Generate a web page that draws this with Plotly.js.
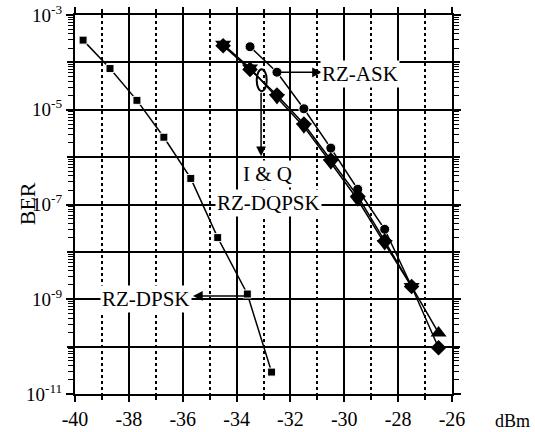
<!DOCTYPE html>
<html>
<head>
<meta charset="utf-8">
<script src="https://cdn.plot.ly/plotly-3.0.1.min.js"></script>
<style>html,body{margin:0;padding:0;background:#fff;}#chart{width:535px;height:432px;}</style>
</head>
<body>
<div id="chart"></div>
<script>
// Received power (dBm) and BER values
const dpskX = [-39.7, -38.7, -37.7, -36.7, -35.7, -34.7, -33.6, -32.7];
const dpskBER = [2.95e-4, 7.4e-5, 1.58e-5, 2.63e-6, 3.55e-7, 2.0e-8, 1.29e-9, 2.9e-11];

const askX = [-33.5, -32.5, -31.5, -30.5, -29.5, -28.5, -27.5];
const askBER = [2.14e-4, 6.2e-5, 1.05e-5, 1.55e-6, 2.1e-7, 3.0e-8, 1.86e-9];

const iX = [-34.5, -33.5, -32.5, -31.5, -30.5, -29.5, -28.5, -27.5, -26.5];
const iBER = [2.24e-4, 7.1e-5, 2.04e-5, 5.0e-6, 8.7e-7, 1.5e-7, 1.7e-8, 1.86e-9, 9.5e-11];

const qX = [-34.5, -33.5, -32.5, -31.5, -30.5, -29.5, -28.5, -27.5, -26.5];
const qBER = [2.4e-4, 7.6e-5, 1.82e-5, 4.4e-6, 7.6e-7, 1.26e-7, 1.5e-8, 1.86e-9, 1.95e-10];

const xTickVals = [-40, -38, -36, -34, -32, -30, -28, -26];
const xTickText = ["-40", "-38", "-36", "-34", "-32", "-30", "-28", "-26"];
const yTickVals = [1e-3, 1e-5, 1e-7, 1e-9, 1e-11];
const yTickText = ["10<sup>-3</sup>", "10<sup>-5</sup>", "10<sup>-7</sup>", "10<sup>-9</sup>", "10<sup>-11</sup>"];
const yEvenDecades = [1e-4, 1e-6, 1e-8, 1e-10];

const FONT = "Liberation Serif, Times New Roman, serif";
const qSymbols = qX.map((v, k) => k === qX.length - 1 ? "triangle-up" : "triangle-down");

const traces = [
  {x: [], y: [], yaxis: "y2", mode: "markers", hoverinfo: "skip", showlegend: false},
  {x: dpskX, y: dpskBER, mode: "lines+markers", name: "RZ-DPSK",
   line: {color: "black", width: 1.5},
   marker: {symbol: "square", size: 8, color: "black", line: {color: "white", width: 1}}},
  {x: askX, y: askBER, mode: "lines+markers", name: "RZ-ASK",
   line: {color: "black", width: 1.5},
   marker: {symbol: "circle", size: 10, color: "black", line: {color: "white", width: 1}}},
  {x: iX, y: iBER, mode: "lines+markers", name: "I RZ-DQPSK",
   line: {color: "black", width: 1.5},
   marker: {symbol: "diamond", size: 12, color: "black"}},
  {x: qX, y: qBER, mode: "lines+markers", name: "Q RZ-DQPSK",
   line: {color: "black", width: 1.5},
   marker: {symbol: qSymbols, size: 14, color: "black"}}
];

const yCommon = {
  type: "log", range: [-11, -3],
  ticks: "outside", ticklen: 7, tickwidth: 2, tickcolor: "black",
  showgrid: true, gridcolor: "black", gridwidth: 2, zeroline: false
};

const layout = {
  width: 535, height: 432,
  margin: {l: 75, r: 83, t: 15, b: 38},
  paper_bgcolor: "white", plot_bgcolor: "white",
  showlegend: false,
  font: {family: FONT, color: "black", size: 20},
  xaxis: {
    range: [-40, -26], tickmode: "array", tickvals: xTickVals, ticktext: xTickText,
    ticks: "outside", ticklen: 6, tickwidth: 2, tickcolor: "black",
    showline: true, linewidth: 2, linecolor: "black", mirror: "ticks",
    showgrid: true, gridcolor: "black", gridwidth: 2, zeroline: false,
    tickfont: {family: FONT, size: 20},
    minor: {tick0: -39, dtick: 2, showgrid: true, gridcolor: "black", gridwidth: 2,
            griddash: "dot", ticks: "outside", ticklen: 4, tickwidth: 2, tickcolor: "black"}
  },
  yaxis: Object.assign({}, yCommon, {
    tickmode: "array", tickvals: yTickVals, ticktext: yTickText,
    showline: true, linewidth: 2, linecolor: "black", mirror: "ticks",
    tickfont: {family: FONT, size: 19},
    minor: {dtick: "D1", ticks: "outside", ticklen: 5, tickwidth: 1, tickcolor: "black", showgrid: false}
  }),
  yaxis2: Object.assign({}, yCommon, {
    overlaying: "y", side: "left", anchor: "x",
    tickmode: "array", tickvals: yEvenDecades, showticklabels: false,
    showline: false, mirror: "ticks"
  }),
  shapes: [
    {type: "circle", xref: "paper", yref: "paper", x0: 0.482, x1: 0.5085, y0: 0.799, y1: 0.857,
     line: {color: "black", width: 2}}
  ],
  annotations: [
    // arrows
    {x: -30.83, y: -4.21, xref: "x", yref: "y", ax: -45, ay: 0, text: "", showarrow: true,
     arrowhead: 2, arrowsize: 1.3, arrowwidth: 1.5, arrowcolor: "black"},
    {x: -33.09, y: -5.98, xref: "x", yref: "y", ax: 0, ay: -65, text: "", showarrow: true,
     arrowhead: 2, arrowsize: 1.3, arrowwidth: 1.5, arrowcolor: "black"},
    {x: -35.62, y: -8.93, xref: "x", yref: "y", ax: 54, ay: 0, text: "", showarrow: true,
     arrowhead: 2, arrowsize: 1.3, arrowwidth: 1.5, arrowcolor: "black"},
    // labels
    {x: -29.40, y: -4.24, xref: "x", yref: "y", text: "RZ-ASK", showarrow: false,
     bgcolor: "white", borderpad: 1, font: {family: FONT, size: 21}},
    {x: -32.85, y: -6.36, xref: "x", yref: "y", text: "I &amp; Q", showarrow: false,
     bgcolor: "white", borderpad: 1, font: {family: FONT, size: 21}},
    {x: -32.83, y: -6.96, xref: "x", yref: "y", text: "RZ-DQPSK", showarrow: false,
     bgcolor: "white", borderpad: 1, font: {family: FONT, size: 21}},
    {x: -37.35, y: -8.99, xref: "x", yref: "y", text: "RZ-DPSK", showarrow: false,
     bgcolor: "white", borderpad: 1, font: {family: FONT, size: 21}},
    {x: -0.127, y: 0.501, xref: "paper", yref: "paper", xanchor: "center", yanchor: "middle",
     text: "BER", textangle: -90, showarrow: false, font: {family: FONT, size: 22}},
    {x: 1.109, y: -0.07, xref: "paper", yref: "paper", xanchor: "left", yanchor: "middle",
     text: "dBm", showarrow: false, font: {family: FONT, size: 18}}
  ]
};

Plotly.newPlot("chart", traces, layout, {staticPlot: true, displayModeBar: false});
</script>
</body>
</html>
